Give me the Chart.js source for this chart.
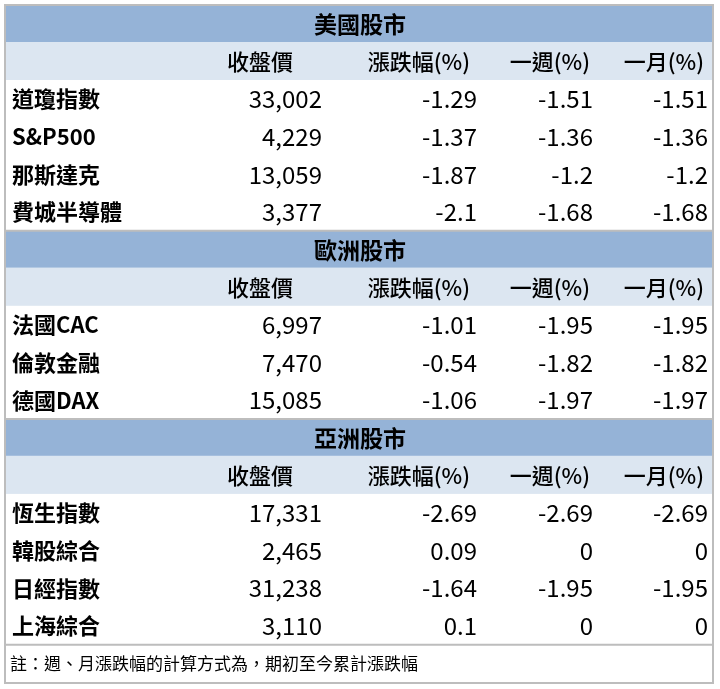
<!DOCTYPE html>
<html><head><meta charset="utf-8">
<script src="https://cdn.jsdelivr.net/npm/chart.js@4"></script>
<style>html,body{margin:0;padding:0;background:#fff}#w{width:720px;height:689px}</style>
</head><body><div id="w"><canvas id="c"></canvas></div>
<script>
const sections = ["美國股市", "歐洲股市", "亞洲股市"];
const headers = ["收盤價", "漲跌幅(%)", "一週(%)", "一月(%)"];
const usNames = ["道瓊指數", "S&P500", "那斯達克", "費城半導體"];
const usClose = ["33,002", "4,229", "13,059", "3,377"];
const usChg = [-1.29, -1.37, -1.87, -2.1];
const usWeek = [-1.51, -1.36, -1.2, -1.68];
const usMonth = [-1.51, -1.36, -1.2, -1.68];
const euNames = ["法國CAC", "倫敦金融", "德國DAX"];
const euClose = ["6,997", "7,470", "15,085"];
const euChg = [-1.01, -0.54, -1.06];
const euWeek = [-1.95, -1.82, -1.97];
const euMonth = [-1.95, -1.82, -1.97];
const asNames = ["恆生指數", "韓股綜合", "日經指數", "上海綜合"];
const asClose = ["17,331", "2,465", "31,238", "3,110"];
const asChg = [-2.69, 0.09, -1.64, 0.1];
const asWeek = [-2.69, 0, -1.95, 0];
const asMonth = [-2.69, 0, -1.95, 0];
const note = "註：週、月漲跌幅的計算方式為，期初至今累計漲跌幅";

const groups = [
  {names: usNames, cols: [usClose, usChg, usWeek, usMonth]},
  {names: euNames, cols: [euClose, euChg, euWeek, euMonth]},
  {names: asNames, cols: [asClose, asChg, asWeek, asMonth]}
];
const F = '"Noto Sans CJK TC","Noto Sans CJK SC",sans-serif';
const tablePlugin = {
  id: 'table',
  afterDraw(chart) {
    const ctx = chart.ctx, X = chart.scales.x, Y = chart.scales.y;
    const px = v => X.getPixelForValue(v), py = v => Y.getPixelForValue(v);
    const L = 5, R = 713;
    const valRight = [322, 477, 593, 708];
    const hdrRight = [293, 470, 590, 704];
    let y = 5;
    const lines = [];
    ctx.save();
    ctx.textBaseline = 'middle';
    groups.forEach((g, gi) => {
      if (gi > 0) lines.push(y);
      ctx.fillStyle = '#95B3D7';
      ctx.fillRect(px(L), py(y), px(R) - px(L), py(y + 37) - py(y));
      ctx.fillStyle = '#000';
      ctx.font = 'bold 23px ' + F; ctx.textAlign = 'center';
      ctx.fillText(sections[gi], px(360), py(y + 19));
      y += 37;
      ctx.fillStyle = '#DCE6F1';
      ctx.fillRect(px(L), py(y), px(R) - px(L), py(y + 38) - py(y));
      ctx.fillStyle = '#000'; ctx.font = '500 22px ' + F; ctx.textAlign = 'right';
      headers.forEach((h, i) => ctx.fillText(h, px(hdrRight[i]), py(y + 20)));
      y += 38;
      g.names.forEach((n, r) => {
        const cy = y + 19;
        ctx.textAlign = 'left'; ctx.font = 'bold 22px ' + F;
        ctx.fillText(n, px(12), py(cy));
        ctx.font = '24px ' + F; ctx.textAlign = 'right';
        g.cols.forEach((c, i) => ctx.fillText(String(c[r]), px(valRight[i]), py(cy)));
        y += 37.7;
      });
    });
    lines.push(y);
    ctx.font = '17px ' + F; ctx.textAlign = 'left';
    ctx.fillText(note, px(10), py(y + 19));
    ctx.strokeStyle = '#BDBDBD'; ctx.lineWidth = 2;
    lines.forEach(l => { ctx.beginPath(); ctx.moveTo(px(L), py(l)); ctx.lineTo(px(R), py(l)); ctx.stroke(); });
    ctx.strokeRect(px(L), py(5), px(R) - px(L), py(683) - py(5));
    ctx.restore();
  }
};
new Chart(document.getElementById('c'), {
  type: 'scatter',
  data: {datasets: []},
  options: {
    responsive: true, maintainAspectRatio: false, animation: false,
    layout: {padding: 0},
    plugins: {legend: {display: false}, tooltip: {enabled: false}},
    scales: {
      x: {type: 'linear', min: 0, max: 720, display: false},
      y: {type: 'linear', min: 0, max: 689, reverse: true, display: false}
    }
  },
  plugins: [tablePlugin]
});
</script></body></html>
